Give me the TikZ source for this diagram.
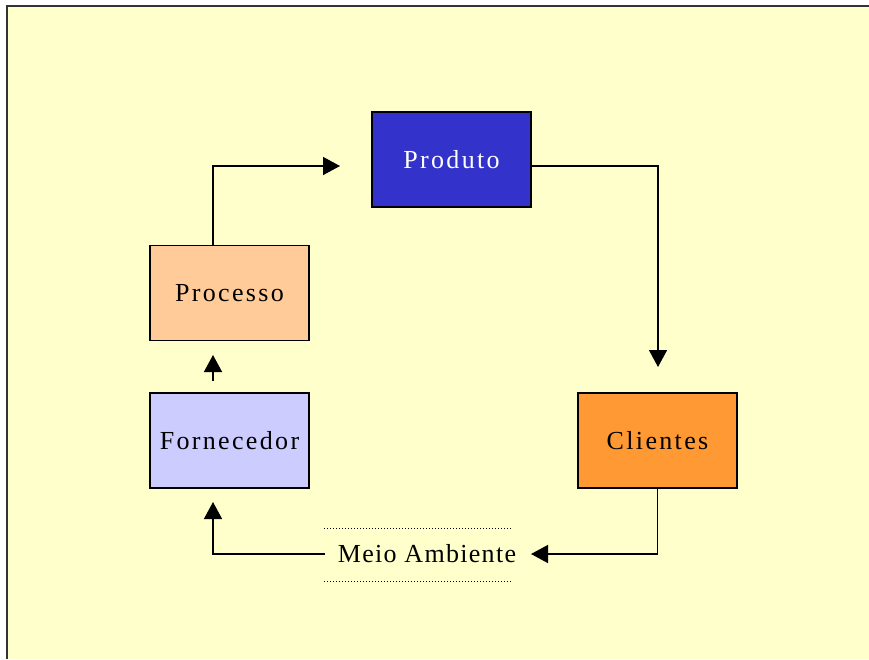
\documentclass[tikz,border=0pt]{standalone}
\usepackage{fontspec}
\setmainfont{Liberation Serif}
\newfontfamily\boxfont[LetterSpace=9]{Liberation Serif}
\newfontfamily\envfont[LetterSpace=5]{Liberation Serif}
\usetikzlibrary{arrows.meta,calc}
\definecolor{paper}{HTML}{FFFFCC}
\definecolor{prodblue}{HTML}{3333CC}
\definecolor{procpeach}{HTML}{FFCC99}
\definecolor{fornlilac}{HTML}{CCCCFF}
\definecolor{cliorange}{HTML}{FF9933}
\tikzset{
  stagebox/.style={draw=black, line width=1.6pt, minimum width=159pt, minimum height=95pt,
    inner sep=0pt, font=\boxfont\fontsize{26}{30}\selectfont},
  flow/.style={line width=1.5pt, -{Triangle[length=17pt,width=18pt]}},
  rim/.style={dotted, line width=1pt}
}
\begin{document}
\begin{tikzpicture}[x=1pt,y=-1pt]
  \useasboundingbox (0,0) rectangle (869,659);
  % page background with framed top and left edges
  \fill[white] (0,0) rectangle (869,659);
  \fill[paper] (7,6) rectangle (869,659);
  \draw[black!80, line width=2pt] (7,659) -- (7,6) -- (869,6);

  % stages
  \node[stagebox, fill=prodblue, text=white] (prod) at (451.5,159.5) {Produto};
  \node[stagebox, fill=procpeach] (proc) at (229.5,293) {Processo};
  \node[stagebox, fill=fornlilac] (forn) at (229.5,440.5) {Fornecedor};
  \node[stagebox, fill=cliorange] (cli) at (657.5,440.5) {Clientes};

  % environment label and its dotted rules
  \node[font=\envfont\fontsize{26}{30}\selectfont, inner sep=0pt] (env) at (427,554) {Meio Ambiente};
  \coordinate (rtl) at (324,528); \coordinate (rtr) at (512,528);
  \coordinate (rbl) at (324,581); \coordinate (rbr) at (512,581);
  \draw[rim] (rtl) -- (rtr);
  \draw[rim] (rbl) -- (rbr);

  % free arrow ends and line starts
  \coordinate (procout) at (213,246);
  \coordinate (toprod) at (340,166);
  \coordinate (tocli) at (658,367);
  \coordinate (fornup) at (213,381);
  \coordinate (toproc) at (213,355);
  \coordinate (toenv) at (531,554);
  \coordinate (envout) at (325,554);
  \coordinate (toforn) at (213,502);

  % cycle connectors
  \draw[flow] (procout) |- (toprod);
  \draw[flow] (prod.east |- toprod) -| (tocli);
  \draw[flow] (fornup) -- (toproc);
  \draw[flow] (cli.south) |- (toenv);
  \draw[flow] (envout) -| (toforn);
\end{tikzpicture}
\end{document}
